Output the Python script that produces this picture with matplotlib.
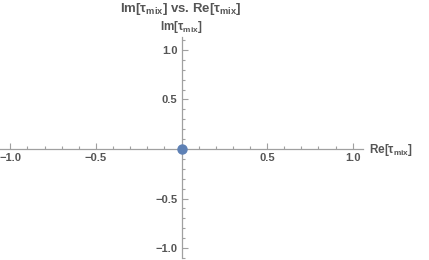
import matplotlib
matplotlib.use("Agg")
import matplotlib.pyplot as plt
from matplotlib.ticker import MultipleLocator, FixedLocator, FixedFormatter

plt.rcParams['font.family'] = ['Liberation Sans', 'DejaVu Sans']
plt.rcParams['mathtext.fontset'] = 'custom'
plt.rcParams['mathtext.rm'] = 'Liberation Sans:bold'
plt.rcParams['mathtext.it'] = 'Liberation Sans:bold'
plt.rcParams['mathtext.bf'] = 'Liberation Sans:bold'

# data
re_vals = [0.0]
im_vals = [0.0]
x_ticks = [-1.0, -0.5, 0.5, 1.0]
y_ticks = [-1.0, -0.5, 0.5, 1.0]
x_ticklabels = ['\u22121.0', '\u22120.5', '0.5', '1.0']
y_ticklabels = ['\u22121.0', '\u22120.5', '0.5', '1.0']
title = r'Im[$\tau_{\rm mix}$] vs. Re[$\tau_{\rm mix}$]'
xlabel = r'Re[$\tau_{\rm mix}$]'
ylabel = r'Im[$\tau_{\rm mix}$]'

W, H = 429, 260
fig = plt.figure(figsize=(W / 100, H / 100), dpi=100)
ax = fig.add_axes([0 / W, 2 / H, 363 / W, 221 / H])
ax.set_xlim(-1.06, 1.06)
ax.set_ylim(-1.10, 1.13)

axis_col = '#a0a0a0'
text_col = '#555555'

for s in ['top', 'right']:
    ax.spines[s].set_visible(False)
ax.spines['left'].set_position(('data', 0))
ax.spines['bottom'].set_position(('data', 0))
for s in ['left', 'bottom']:
    ax.spines[s].set_color(axis_col)
    ax.spines[s].set_linewidth(0.9)

ax.xaxis.set_major_locator(FixedLocator(x_ticks))
ax.xaxis.set_major_formatter(FixedFormatter(x_ticklabels))
ax.yaxis.set_major_locator(FixedLocator(y_ticks))
ax.yaxis.set_major_formatter(FixedFormatter(y_ticklabels))
ax.xaxis.set_minor_locator(MultipleLocator(0.1))
ax.yaxis.set_minor_locator(MultipleLocator(0.1))

ax.tick_params(axis='x', which='both', direction='in', color=axis_col, width=0.8)
ax.tick_params(axis='y', which='both', direction='in', color=axis_col, width=0.8)
ax.tick_params(which='major', length=4, labelsize=8, labelcolor=text_col, pad=3)
ax.tick_params(which='minor', length=2)
for lbl in ax.get_xticklabels() + ax.get_yticklabels():
    lbl.set_fontweight('bold')

ax.plot(re_vals, im_vals, 'o', color='#5E81B5', markersize=6.5, clip_on=False, zorder=5)

fig.text(181 / W, 1 - 9 / H, title, ha='center', va='center', fontsize=9.5,
         fontweight='bold', color=text_col)
fig.text(181 / W, 1 - 27 / H, ylabel, ha='center', va='center', fontsize=8.5,
         fontweight='bold', color=text_col)
fig.text(369 / W, 1 - 150 / H, xlabel, ha='left', va='center', fontsize=8.5,
         fontweight='bold', color=text_col)

fig.savefig('out.png', dpi=100, facecolor='white')
